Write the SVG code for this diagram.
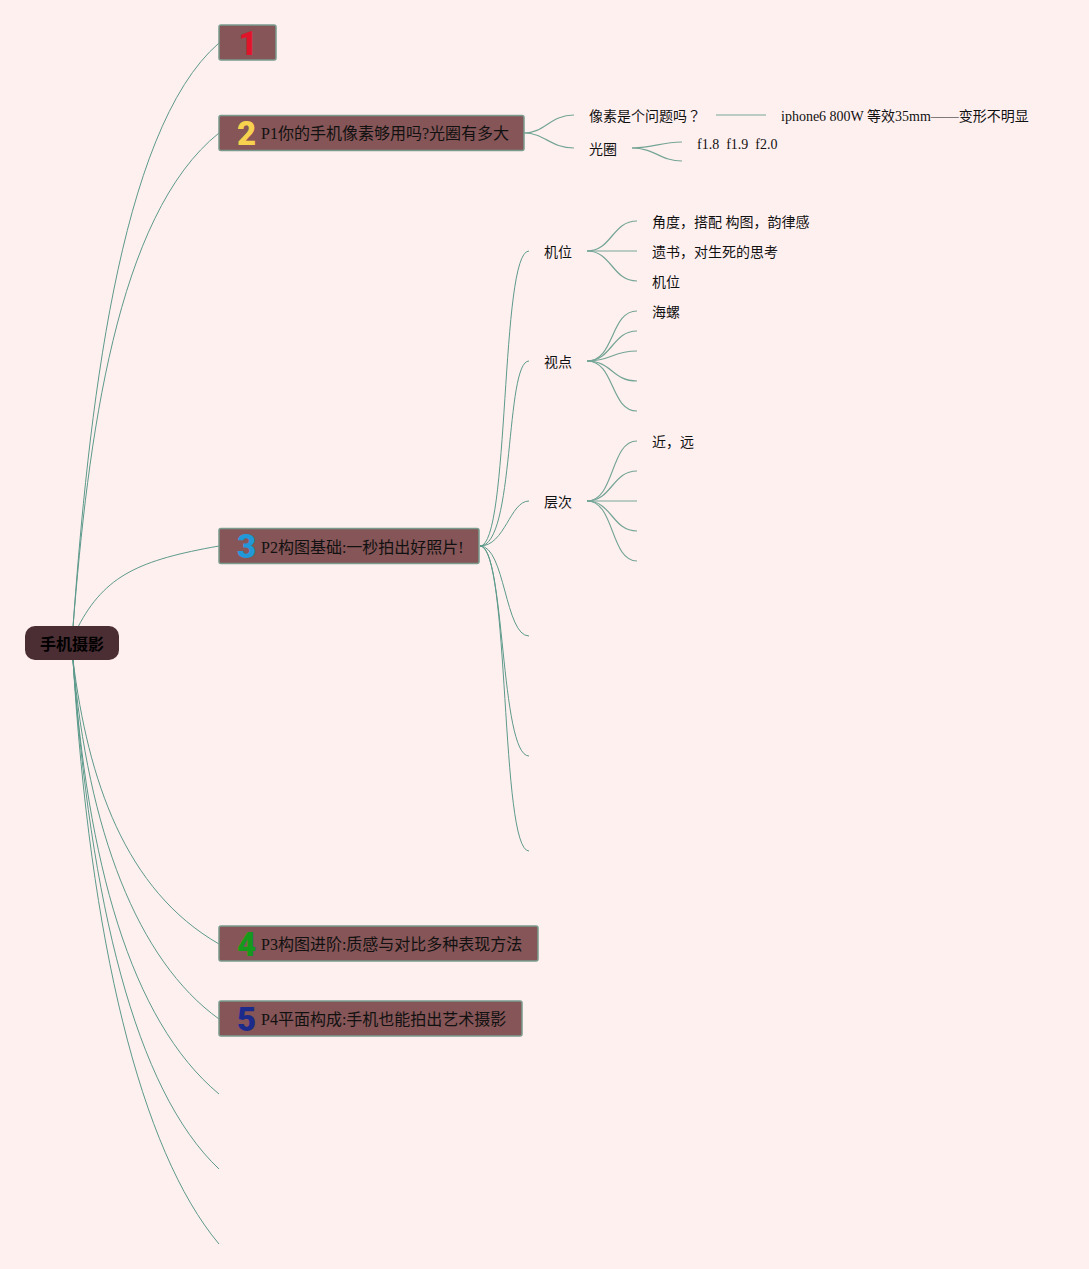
<svg xmlns="http://www.w3.org/2000/svg" width="1089" height="1269" viewBox="0 0 1089 1269">
<style>
.c{fill:none;stroke:#5c9a8b;stroke-width:1}
.d{fill:none;stroke:#74a596;stroke-width:1.2}
.b{fill:#855557;stroke:#7a9a8d;stroke-width:1.5}
.t{font-family:"Liberation Serif","Noto Sans CJK SC",serif;font-size:14px;fill:#111;white-space:pre}
.m{font-family:"Liberation Serif","Noto Sans CJK SC",serif;font-size:16px;fill:#111}
.n{font-family:Roboto,"Liberation Sans",sans-serif;font-size:33px;font-weight:900;text-anchor:middle}
</style>
<rect width="1089" height="1269" fill="#fff0f0"/>
<g id="connectors">
<path class="c" d="M73 627C88 420 118 130 219 43"/>
<path class="c" d="M73 627C88 440 116 215 219 133"/>
<path class="c" d="M78 627C105 575 140 560 219 546"/>
<path class="c" d="M73 660C88 780 125 890 219 944"/>
<path class="c" d="M73 660C88 830 137 960 219 1019"/>
<path class="c" d="M73 660C87 860 130 1020 219 1094"/>
<path class="c" d="M73 660C90 900 135 1090 219 1169"/>
<path class="c" d="M73 660C90 940 140 1150 219 1244"/>
<path class="d" d="M524 133C545 133 550 115 574 115"/>
<path class="d" d="M524 133C545 133 550 148 574 148"/>
<path class="d" d="M716 115H766"/>
<path class="d" d="M632 148C655 148 660 142 682 142"/>
<path class="d" d="M632 148C655 148 660 161 682 161"/>
<path class="c" d="M480 546C510 546 500 251 529 251"/>
<path class="c" d="M480 546C515 546 505 361 529 361"/>
<path class="c" d="M480 546C505 546 510 501 529 501"/>
<path class="c" d="M480 546C505 546 505 636 529 636"/>
<path class="c" d="M480 546C505 546 500 756 529 756"/>
<path class="c" d="M480 546C510 546 500 851 529 851"/>
<path class="d" d="M587 251C612 251 612 221 637 221"/>
<path class="d" d="M587 251H637"/>
<path class="d" d="M587 251C612 251 612 281 637 281"/>
<path class="d" d="M587 361C615 361 610 311 637 311"/>
<path class="d" d="M587 361C612 361 612 331 637 331"/>
<path class="d" d="M587 361C612 361 612 351 637 351"/>
<path class="d" d="M587 361C612 361 612 381 637 381"/>
<path class="d" d="M587 361C615 361 610 411 637 411"/>
<path class="d" d="M587 501C615 501 610 441 637 441"/>
<path class="d" d="M587 501C612 501 612 471 637 471"/>
<path class="d" d="M587 501H637"/>
<path class="d" d="M587 501C612 501 612 531 637 531"/>
<path class="d" d="M587 501C615 501 610 561 637 561"/>
</g>
<g id="root"><rect x="25" y="626" width="94" height="34" rx="10" fill="#4a2e33"/><text x="72" y="649.500" text-anchor="middle" style="font-family:'Noto Sans CJK SC',sans-serif;font-size:16px;font-weight:700;fill:#000">手机摄影</text></g>
<g id="n1"><rect class="b" x="219" y="25" width="57" height="35" rx="2"/><text class="n" x="248" y="54.500" fill="#e0142a">1</text></g>
<g id="n2"><rect class="b" x="219" y="115.500" width="305" height="35" rx="2"/><text class="n" x="246.500" y="145" fill="#f6d24f">2</text><text class="m" x="261" y="138.500">P1你的手机像素够用吗?光圈有多大</text></g>
<g id="n3"><rect class="b" x="219" y="528.500" width="260" height="35" rx="2"/><text class="n" x="246.500" y="558" fill="#2199d8">3</text><text class="m" x="261" y="552.500">P2构图基础:一秒拍出好照片!</text></g>
<g id="n4"><rect class="b" x="219" y="926" width="319" height="35" rx="2"/><text class="n" x="246.500" y="955.500" fill="#169a1c">4</text><text class="m" x="261" y="949.500">P3构图进阶:质感与对比多种表现方法</text></g>
<g id="n5"><rect class="b" x="219" y="1001" width="303" height="35" rx="2"/><text class="n" x="246.500" y="1030.500" fill="#1c2a8c">5</text><text class="m" x="261" y="1024.500">P4平面构成:手机也能拍出艺术摄影</text></g>
<g id="l-pixel"><text class="t" x="589" y="121">像素是个问题吗<tspan style="font-family:'Noto Sans CJK TC',sans-serif">？</tspan></text></g>
<g id="l-iphone"><text class="t" x="781" y="121">iphone6 800W 等效35mm——变形不明显</text></g>
<g id="l-aperture"><text class="t" x="589" y="154">光圈</text></g>
<g id="l-f"><text class="t" x="697" y="149">f1.8  f1.9  f2.0</text></g>
<g id="l-jw"><text class="t" x="544" y="257">机位</text></g>
<g id="l-sd"><text class="t" x="544" y="367">视点</text></g>
<g id="l-cc"><text class="t" x="544" y="507">层次</text></g>
<g id="l-a"><text class="t" x="652" y="227">角度，搭配 构图，韵律感</text></g>
<g id="l-b"><text class="t" x="652" y="257">遗书，对生死的思考</text></g>
<g id="l-c"><text class="t" x="652" y="287">机位</text></g>
<g id="l-d"><text class="t" x="652" y="317">海螺</text></g>
<g id="l-e"><text class="t" x="652" y="447">近，远</text></g>
</svg>
